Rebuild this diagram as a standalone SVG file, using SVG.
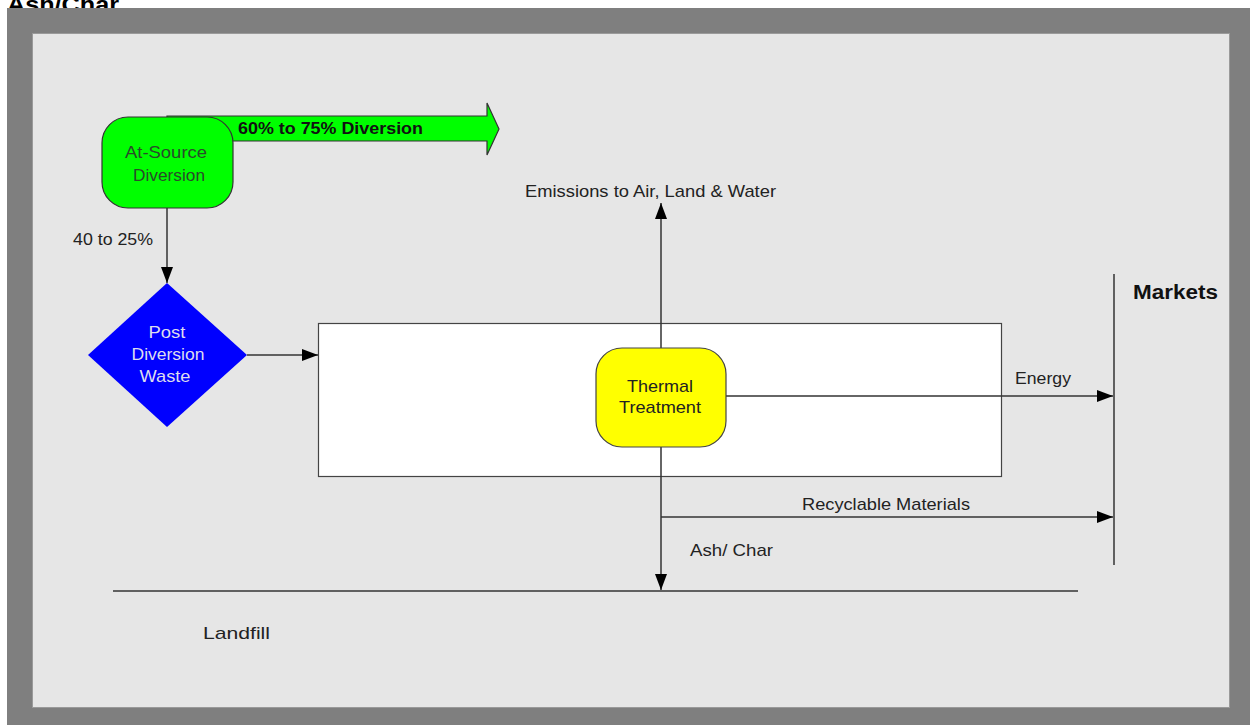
<svg xmlns="http://www.w3.org/2000/svg" width="1250" height="725" viewBox="0 0 1250 725">
<style>
.t{font-family:"Liberation Sans",Arial,sans-serif;font-size:17px;fill:#222}
.c{text-anchor:middle}
.ln{stroke:#333;stroke-width:1.5;fill:none}
</style>
<defs>
<marker id="ah" markerWidth="16" markerHeight="12" refX="16" refY="6" orient="auto" markerUnits="userSpaceOnUse">
<path d="M0,0 L16,6 L0,12 Z" fill="#000"/>
</marker>
</defs>
<rect x="0" y="0" width="1250" height="725" fill="#fff"/>
<text x="7" y="12" textLength="112" lengthAdjust="spacingAndGlyphs" style="font-family:'Liberation Sans',Arial,sans-serif;font-size:22px;font-weight:bold;fill:#000">Ash/Char</text>
<rect x="7" y="8" width="1243" height="717" fill="#7f7f7f"/>
<rect x="32.5" y="33.5" width="1197" height="674" fill="#e6e6e6" stroke="#9a9a9a" stroke-width="1"/>

<g id="process-box">
<rect x="318.5" y="323.5" width="683" height="153" fill="#fff" stroke="#444" stroke-width="1.2"/>
</g>

<g id="connectors">
<line class="ln" x1="167" y1="208" x2="167" y2="283" marker-end="url(#ah)"/>
<line class="ln" x1="247" y1="355" x2="318" y2="355" marker-end="url(#ah)"/>
<line class="ln" x1="661" y1="348" x2="661" y2="203" marker-end="url(#ah)"/>
<line class="ln" x1="726" y1="396" x2="1113" y2="396" marker-end="url(#ah)"/>
<line class="ln" x1="661" y1="447" x2="661" y2="590" marker-end="url(#ah)"/>
<line class="ln" x1="661" y1="517" x2="1113" y2="517" marker-end="url(#ah)"/>
<line class="ln" x1="1114" y1="274" x2="1114" y2="565"/>
<line class="ln" x1="113" y1="591" x2="1078" y2="591"/>
</g>

<g id="diversion-arrow">
<path d="M167,116 L487,116 L487,103 L499,129 L487,155 L487,141 L167,141 Z" fill="#00ff00" stroke="#333" stroke-width="1.2"/>
<text x="238" y="134" textLength="185" lengthAdjust="spacingAndGlyphs" style="font-family:'Liberation Sans',Arial,sans-serif;font-size:17px;font-weight:bold;fill:#111">60% to 75% Diversion</text>
</g>

<g id="at-source">
<rect x="102" y="117" width="131" height="91" rx="26" fill="#00ff00" stroke="#333" stroke-width="1.2"/>
<text class="t c" x="166" y="158" textLength="82" lengthAdjust="spacingAndGlyphs" style="fill:#2a4a2a">At-Source</text>
<text class="t c" x="169" y="181" textLength="72" lengthAdjust="spacingAndGlyphs" style="fill:#2a4a2a">Diversion</text>
</g>

<text class="t" x="73" y="245" textLength="80" lengthAdjust="spacingAndGlyphs">40 to 25%</text>

<g id="post-diversion">
<polygon points="167,283 247,355 167,427 88,355" fill="#0000ff"/>
<text class="t c" x="167" y="338" textLength="37" lengthAdjust="spacingAndGlyphs" style="fill:#dde">Post</text>
<text class="t c" x="168" y="360" textLength="73" lengthAdjust="spacingAndGlyphs" style="fill:#dde">Diversion</text>
<text class="t c" x="165" y="382" textLength="51" lengthAdjust="spacingAndGlyphs" style="fill:#dde">Waste</text>
</g>

<g id="thermal">
<rect x="596" y="348" width="130" height="99" rx="26" fill="#ffff00" stroke="#444" stroke-width="1.2"/>
<text class="t c" x="660" y="392" textLength="66" lengthAdjust="spacingAndGlyphs">Thermal</text>
<text class="t c" x="660" y="413" textLength="82" lengthAdjust="spacingAndGlyphs">Treatment</text>
</g>

<g id="emissions"><text class="t" x="525" y="197" textLength="251" lengthAdjust="spacingAndGlyphs">Emissions to Air, Land &amp; Water</text></g>
<g id="energy"><text class="t" x="1015" y="384" textLength="56" lengthAdjust="spacingAndGlyphs">Energy</text></g>
<g id="recyclables"><text class="t" x="802" y="510" textLength="168" lengthAdjust="spacingAndGlyphs">Recyclable Materials</text></g>
<g id="ash"><text class="t" x="690" y="556" textLength="83" lengthAdjust="spacingAndGlyphs">Ash/ Char</text></g>
<g id="markets"><text x="1133" y="299" textLength="85" lengthAdjust="spacingAndGlyphs" style="font-family:'Liberation Sans',Arial,sans-serif;font-size:20px;font-weight:bold;fill:#111">Markets</text></g>
<g id="landfill"><text class="t" x="203" y="639" textLength="67" lengthAdjust="spacingAndGlyphs">Landfill</text></g>
</svg>
